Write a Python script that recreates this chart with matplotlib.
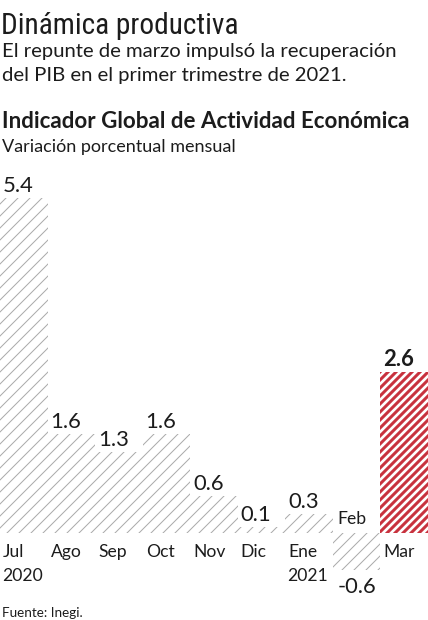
import matplotlib
matplotlib.use("Agg")
import matplotlib.pyplot as plt
from matplotlib import font_manager

# data
months = ["Jul", "Ago", "Sep", "Oct", "Nov", "Dic", "Ene", "Feb", "Mar"]
years = ["2020", "", "", "", "", "", "2021", "", ""]
values = [5.4, 1.6, 1.3, 1.6, 0.6, 0.1, 0.3, -0.6, 2.6]
highlight = "Mar"

W, H = 428, 620
DPI = 72
GRAY = "#ababab"
RED = "#c8323e"
INK = "#1c1c1c"

plt.rcParams["font.family"] = ["Lato", "DejaVu Sans"]


# most condensed face available for the headline
def pick_narrow():
    prefs = ["robotocondensed", "condensed-regular", "condensed_regular",
             "sansnarrow-regular", "narrow", "condensed"]
    files = sorted(f.fname for f in font_manager.fontManager.ttflist)
    skip = ("bold", "italic", "oblique", "light", "thin", "black")
    for key in prefs:
        for fn in files:
            low = fn.lower().replace(" ", "")
            base = low.rsplit("/", 1)[-1]
            if key in base and not any(s in base for s in skip):
                return font_manager.FontProperties(fname=fn)
    return font_manager.FontProperties(family="DejaVu Sans", stretch="condensed")


narrow = pick_narrow()

fig = plt.figure(figsize=(W / DPI, H / DPI), dpi=DPI)


def fy(py):
    return 1 - py / H


# headings
title = fig.text(1 / W, fy(34), "Dinámica productiva", fontproperties=narrow,
                 color=INK, va="baseline")
title.set_fontsize(33)
fig.canvas.draw()
tw = title.get_window_extent().width
title.set_fontsize(33 * min(1.0, 238 / tw))

fig.text(2 / W, fy(57), "El repunte de marzo impulsó la recuperación", fontsize=20.3,
         color=INK, va="baseline")
fig.text(2 / W, fy(81), "del PIB en el primer trimestre de 2021.", fontsize=20.3,
         color=INK, va="baseline")
fig.text(2 / W, fy(128), "Indicador Global de Actividad Económica", fontsize=22.4,
         weight="bold", color=INK, va="baseline")
fig.text(2 / W, fy(152), "Variación porcentual mensual", fontsize=18,
         color=INK, va="baseline")
fig.text(2 / W, fy(617), "Fuente: Inegi.", fontsize=13.5, color=INK, va="baseline")

# axes: 0 at px 533, 5.4 at px 198
top_px, base_px = 198, 533
ppu = (base_px - top_px) / 5.4
ymin = -1.0
bottom_px = base_px - ymin * ppu
ax = fig.add_axes([0, 1 - bottom_px / H, 1, (bottom_px - top_px) / H])
ax.set_xlim(-0.5, len(months) - 0.5)
ax.set_ylim(ymin, 5.4)
ax.axis("off")

xs = list(range(len(months)))
gray_x = [x for x, m in zip(xs, months) if m != highlight]
gray_v = [v for v, m in zip(values, months) if m != highlight]
hi_x = [x for x, m in zip(xs, months) if m == highlight]
hi_v = [v for v, m in zip(values, months) if m == highlight]

with plt.rc_context({"hatch.linewidth": 1.0}):
    ax.bar(gray_x, gray_v, width=1.0, color="white", edgecolor=GRAY,
           linewidth=0, hatch="//")
with plt.rc_context({"hatch.linewidth": 3.0}):
    ax.bar(hi_x, hi_v, width=1.0, color="white", edgecolor=RED,
           linewidth=0, hatch="///")

for x, v, m, yr in zip(xs, values, months, years):
    left = x - 0.5
    bold = m == highlight
    lbl = f"{v:.1f}"
    if v >= 0:
        ax.annotate(lbl, (left, v), xytext=(3, 6), textcoords="offset points",
                    ha="left", va="baseline", fontsize=22,
                    weight="bold" if bold else "normal", color=INK)
        ax.annotate(m, (left, 0), xytext=(3, -24), textcoords="offset points",
                    ha="left", va="baseline", fontsize=17.5, color=INK)
    else:
        ax.annotate(lbl, (left, v), xytext=(5, -23), textcoords="offset points",
                    ha="left", va="baseline", fontsize=22, color=INK)
        ax.annotate(m, (left, 0), xytext=(4, 9), textcoords="offset points",
                    ha="left", va="baseline", fontsize=17.5, color=INK)
    if yr:
        ax.annotate(yr, (left, 0), xytext=(2, -48), textcoords="offset points",
                    ha="left", va="baseline", fontsize=17.5, color=INK)

fig.savefig("out.png", dpi=DPI)
